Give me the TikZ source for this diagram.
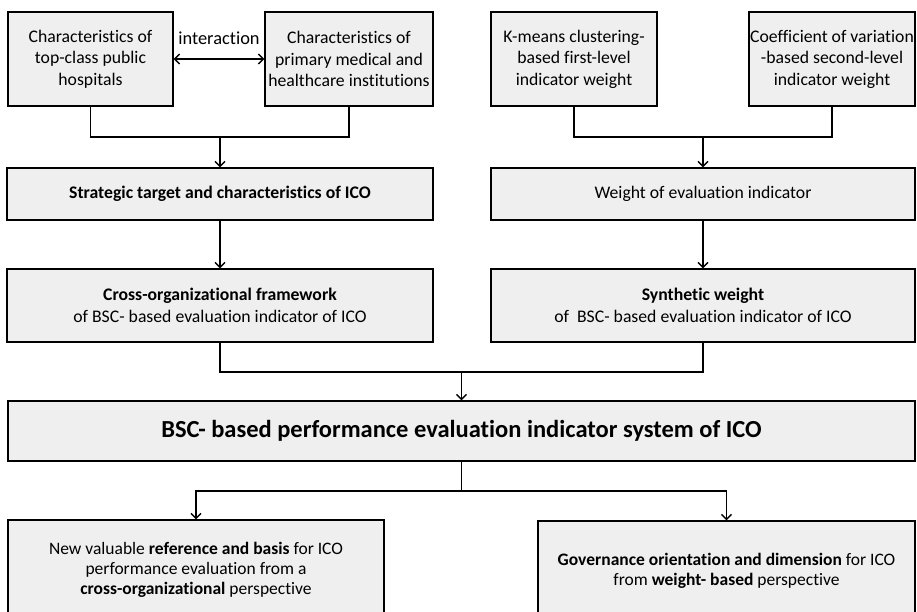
\documentclass[tikz,border=0pt]{standalone}
\usepackage{fontspec}
\setmainfont{Carlito}[Ligatures=NoCommon]
\usetikzlibrary{arrows.meta}
\definecolor{boxgray}{HTML}{EFEFEF}
\begin{document}
\begin{tikzpicture}[x=1pt,y=-1pt,
  box/.style={draw=black,line width=1.4pt,fill=boxgray,align=center,inner sep=0pt,
    font=\fontsize{17.7}{21.5}\selectfont},
  conn/.style={line width=1.4pt},
  arr/.style={conn,-{Straight Barb[length=5pt,width=10pt,line width=1.4pt]}},
  darr/.style={conn,{Straight Barb[length=5pt,width=10pt,line width=1.4pt]}-{Straight Barb[length=5pt,width=10pt,line width=1.4pt]}}]
\useasboundingbox (0,0) rectangle (917,612);
\clip (0,0) rectangle (917,612);
% top row
\node[box,minimum width=165pt,minimum height=94pt] (a) at (90.5,59) {Characteristics of\\top-class public\\hospitals};
\node[box,minimum width=168pt,minimum height=94pt] (b) at (349,59) {Characteristics of\\primary medical and\\healthcare institutions};
\node[box,minimum width=166pt,minimum height=94pt] (c) at (574,59) {K-means clustering-\\based first-level\\indicator weight};
\node[box,minimum width=166pt,minimum height=94pt] (d) at (832,59) {Coefficient of variation\\-based second-level\\indicator weight};
\draw[darr] (a.east) -- node[above=10pt,font=\fontsize{18.4}{20}\selectfont]{interaction} (b.west);
% second row
\node[box,minimum width=426pt,minimum height=52pt] (s) at (220,194) {\textbf{Strategic target and characteristics of ICO}};
\node[box,minimum width=424pt,minimum height=52pt] (w) at (703,194) {Weight of evaluation indicator};
% third row
\node[box,minimum width=426pt,minimum height=73pt] (cf) at (220,305.5) {\textbf{Cross-organizational framework}\\of BSC- based evaluation indicator of ICO};
\node[box,minimum width=424pt,minimum height=73pt] (sw) at (703,305.5) {\textbf{Synthetic weight}\\of\ \ BSC- based evaluation indicator of ICO};
% big box
\node[box,minimum width=907pt,minimum height=60pt,font=\fontsize{24.5}{28}\selectfont] (big) at (461.5,431) {\textbf{BSC- based performance evaluation indicator system of ICO}};
% bottom boxes
\node[box,minimum width=376pt,minimum height=100pt,font=\fontsize{17.5}{20}\selectfont] (bl) at (196,570) {New valuable \textbf{reference and basis} for ICO\\performance evaluation from a\\\textbf{cross-organizational} perspective};
\node[box,minimum width=377pt,minimum height=100pt,font=\fontsize{17.5}{20}\selectfont] (br) at (726.5,571) {\textbf{Governance orientation and dimension} for ICO\\from \textbf{weight- based} perspective};
% junctions
\coordinate (j1) at (220,137);
\coordinate (j2) at (703,137);
\coordinate (j3) at (461.5,372);
\coordinate (j4) at (461.5,491);
% connectors
\draw[conn] (a.south) |- (j1) -| (b.south);
\draw[arr] (j1) -- (s.north);
\draw[conn] (c.south) |- (j2) -| (d.south);
\draw[arr] (j2) -- (w.north);
\draw[arr] (s.south) -- (cf.north);
\draw[arr] (w.south) -- (sw.north);
\draw[conn] (cf.south) |- (j3) -| (sw.south);
\draw[arr] (j3) -- (big.north);
\draw[conn] (big.south) -- (j4);
\draw[arr] (j4) -| (bl.north);
\draw[arr] (j4) -| (br.north);
\end{tikzpicture}
\end{document}
